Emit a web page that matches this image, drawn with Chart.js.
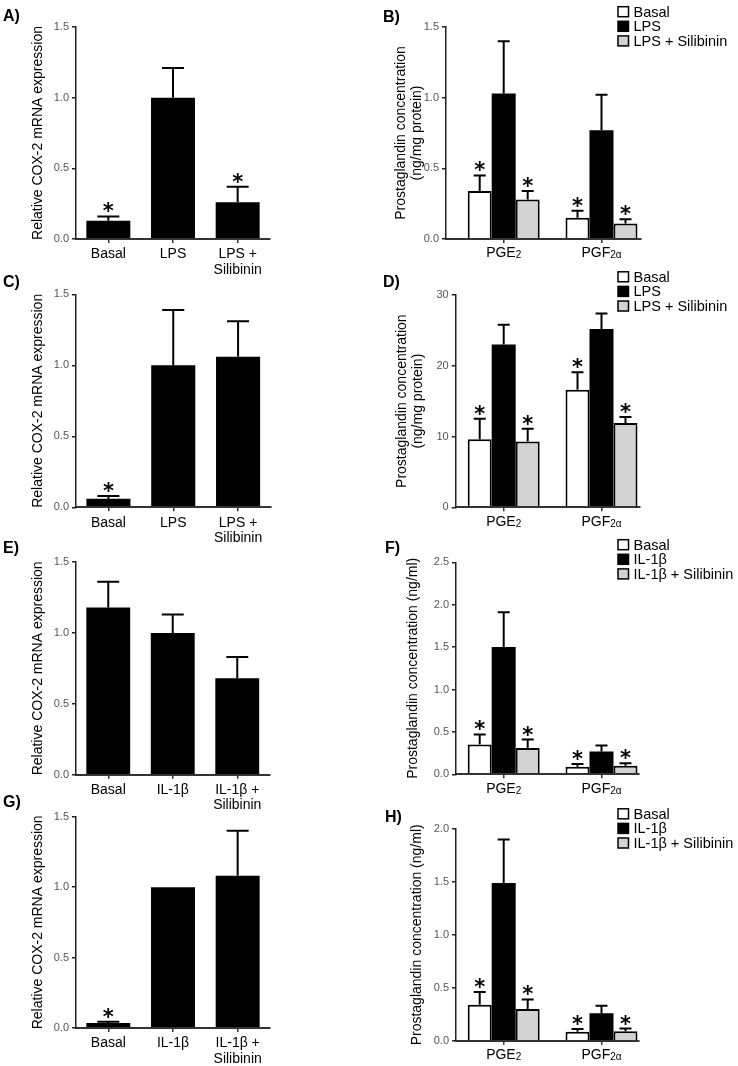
<!DOCTYPE html>
<html>
<head>
<meta charset="utf-8">
<script src="https://cdn.jsdelivr.net/npm/chart.js@4.4.1/dist/chart.umd.min.js"></script>
<style>
  body { margin: 0; background: #fff; width: 738px; height: 1066px; position: relative; overflow: hidden; }
  canvas { position: absolute; }
</style>
</head>
<body>
<canvas id="chartA"></canvas>
<canvas id="chartB"></canvas>
<canvas id="chartC"></canvas>
<canvas id="chartD"></canvas>
<canvas id="chartE"></canvas>
<canvas id="chartF"></canvas>
<canvas id="chartG"></canvas>
<canvas id="chartH"></canvas>
<script>
// ---- data ----
const labelsLPS = ['Basal', 'LPS', ['LPS +', 'Silibinin']];
const labelsIL = ['Basal', 'IL-1β', ['IL-1β +', 'Silibinin']];
const seriesLPS = ['Basal', 'LPS', 'LPS + Silibinin'];
const seriesIL = ['Basal', 'IL-1β', 'IL-1β + Silibinin'];
const groupLabels = [{ main: 'PGE', sub: '2' }, { main: 'PGF', sub: '2α' }];

const ticksRel = [0, 0.5, 1.0, 1.5];
const ticksB = [0, 0.5, 1.0, 1.5];
const ticksD = [0, 10, 20, 30];
const ticksF = [0, 0.5, 1.0, 1.5, 2.0, 2.5];
const ticksH = [0, 0.5, 1.0, 1.5, 2.0];

// A) COX-2 mRNA, LPS
const meanA = [0.13, 1.00, 0.26];
const semA = [0.03, 0.21, 0.11];
const starA = [true, false, true];
// C) COX-2 mRNA, LPS
const meanC = [0.06, 1.00, 1.06];
const semC = [0.02, 0.39, 0.25];
const starC = [true, false, false];
// E) COX-2 mRNA, IL-1b
const meanE = [1.18, 1.00, 0.68];
const semE = [0.18, 0.13, 0.15];
const starE = [false, false, false];
// G) COX-2 mRNA, IL-1b
const meanG = [0.035, 1.00, 1.08];
const semG = [0.01, 0, 0.32];
const starG = [true, false, false];

// B) prostaglandins ng/mg protein
const basalB = [0.34, 0.15], basalSemB = [0.11, 0.05];
const lpsB = [1.03, 0.77], lpsSemB = [0.37, 0.25];
const silB = [0.28, 0.11], silSemB = [0.06, 0.03];
// D) prostaglandins ng/mg protein
const basalD = [9.6, 16.6], basalSemD = [2.9, 2.5];
const lpsD = [23.0, 25.2], lpsSemD = [2.8, 2.2];
const silD = [9.3, 11.9], silSemD = [1.8, 0.85];
// F) prostaglandins ng/ml
const basalF = [0.35, 0.09], basalSemF = [0.12, 0.03];
const ilF = [1.50, 0.27], ilSemF = [0.41, 0.07];
const silF = [0.31, 0.10], silSemF = [0.10, 0.03];
// H) prostaglandins ng/ml
const basalH = [0.34, 0.085], basalSemH = [0.12, 0.025];
const ilH = [1.49, 0.26], ilSemH = [0.41, 0.07];
const silH = [0.30, 0.09], silSemH = [0.09, 0.025];

const starsBasal = [true, true];
const starsNone = [false, false];
const starsSil = [true, true];

// ---- drawing ----
const fam = '"Liberation Sans", Arial, Helvetica, sans-serif';
Chart.defaults.font.family = fam;
Chart.defaults.color = '#000';

const WHITE = '#ffffff', BLACK = '#000000', GREY = '#d3d3d3';

const panelPlugin = {
  id: 'panel',
  afterDatasetsDraw(chart, args, o) {
    const ctx = chart.ctx, ys = chart.scales.y;
    ctx.save();
    chart.data.datasets.forEach((ds, i) => {
      chart.getDatasetMeta(i).data.forEach((bar, j) => {
        const yTop = ys.getPixelForValue(ds.means[j] + ds.sem[j]);
        if (ds.sem[j] > 0) {
          const cap = Math.max(bar.width * 0.5, 11);
          ctx.strokeStyle = BLACK;
          ctx.lineWidth = 2;
          ctx.beginPath();
          ctx.moveTo(bar.x, bar.y);
          ctx.lineTo(bar.x, yTop);
          ctx.moveTo(bar.x - cap / 2, yTop);
          ctx.lineTo(bar.x + cap / 2, yTop);
          ctx.stroke();
        }
        if (ds.stars[j]) {
          ctx.fillStyle = BLACK;
          ctx.font = 'bold 21px "DejaVu Sans"';
          ctx.textAlign = 'center';
          ctx.textBaseline = 'alphabetic';
          ctx.fillText('*', bar.x, yTop + 2);
        }
      });
    });
    ctx.restore();
  },
  afterDraw(chart, args, o) {
    const ctx = chart.ctx;
    ctx.save();
    ctx.fillStyle = BLACK;
    ctx.textBaseline = 'alphabetic';
    // panel letter
    ctx.font = 'bold 16px ' + fam;
    ctx.textAlign = 'left';
    ctx.fillText(o.letter, o.letterX - o.left, o.letterY - o.top);
    // x labels
    const xs = chart.scales.x;
    const base = o.labelBase - o.top;
    xs.ticks.forEach((t, k) => {
      const px = xs.getPixelForTick(k);
      const lab = o.xLabels[k];
      if (lab && lab.main) {
        ctx.font = '14px ' + fam;
        const w1 = ctx.measureText(lab.main).width;
        ctx.font = '10px ' + fam;
        const w2 = ctx.measureText(lab.sub).width;
        const x0 = px - (w1 + w2) / 2;
        ctx.textAlign = 'left';
        ctx.font = '14px ' + fam;
        ctx.fillText(lab.main, x0, base);
        ctx.font = '10px ' + fam;
        ctx.fillText(lab.sub, x0 + w1, base + 1);
      } else {
        const lines = [].concat(lab);
        ctx.font = '14px ' + fam;
        ctx.textAlign = 'center';
        lines.forEach((ln, n) => ctx.fillText(ln, px, base + n * 15.2));
      }
    });
    // legend
    if (o.legend) {
      chart.data.datasets.forEach((ds, i) => {
        const cy = o.legend.y + i * 14.6 - o.top;
        const bx = o.legend.x - o.left;
        ctx.fillStyle = ds.backgroundColor;
        ctx.fillRect(bx, cy - 5, 10.5, 10);
        ctx.strokeStyle = BLACK;
        ctx.lineWidth = 1.5;
        ctx.strokeRect(bx, cy - 5, 10.5, 10);
        ctx.fillStyle = BLACK;
        ctx.font = '14.5px ' + fam;
        ctx.textAlign = 'left';
        ctx.fillText(ds.label, bx + 15.5, cy + 5);
      });
    }
    ctx.restore();
  }
};
Chart.register(panelPlugin);

function barSet(label, values, sem, stars, colour, linear) {
  return {
    label: label,
    data: linear ? values.map((v, k) => ({ x: k + 1, y: v })) : values,
    means: values,
    sem: sem,
    stars: stars,
    backgroundColor: colour,
    borderColor: BLACK,
    borderWidth: colour === BLACK ? 0 : 2,
    categoryPercentage: linear ? 0.736 : 1,
    barPercentage: linear ? 1 : 0.68
  };
}

function makePanel(id, p) {
  const cv = document.getElementById(id);
  cv.width = p.w;
  cv.height = p.h;
  cv.style.left = p.left + 'px';
  cv.style.top = p.top + 'px';

  const grid = { drawOnChartArea: false, drawTicks: true, tickLength: 4, color: '#333', lineWidth: 1.5, offset: false };
  let xScale;
  if (p.linear) {
    // group centres at 503.7 and 601.5 px
    const c1 = 503.7, c2 = 601.5, unit = c2 - c1;
    xScale = {
      type: 'linear',
      min: 1 - (c1 - p.axisX) / unit,
      max: 2 + (p.axisRight - c2) / unit,
      offset: false,
      afterBuildTicks: s => { s.ticks = [{ value: 1 }, { value: 2 }]; }
    };
  } else {
    xScale = { type: 'category', offset: true };
  }
  Object.assign(xScale, {
    afterFit: s => { s.height = p.top + p.h - p.axisBottom; },
    ticks: { display: false },
    grid: grid,
    border: { color: '#333', width: 2, z: 1 }
  });

  return new Chart(cv, {
    type: 'bar',
    data: { labels: p.linear ? undefined : p.xLabels.map((l, k) => k), datasets: p.datasets },
    options: {
      responsive: false,
      animation: false,
      layout: { padding: { top: p.axisTop - p.top, right: p.left + p.w - p.axisRight, left: 0, bottom: 0 } },
      plugins: {
        legend: { display: false },
        tooltip: { enabled: false },
        panel: p
      },
      scales: {
        x: xScale,
        y: {
          min: 0,
          max: p.yTicks[p.yTicks.length - 1],
          afterFit: s => { s.width = p.axisX - p.left; },
          afterBuildTicks: s => { s.ticks = p.yTicks.map(v => ({ value: v })); },
          ticks: { color: '#555', font: { size: 11 }, padding: 3, callback: v => v.toFixed(p.dec) },
          grid: { drawOnChartArea: false, drawTicks: true, tickLength: 4, color: '#222', lineWidth: 1.5 },
          border: { color: '#222', width: 1.5, z: 1 },
          title: {
            display: true, text: p.title, color: BLACK,
            font: { size: 14, lineHeight: 1.15 },
            padding: { top: p.titleX - p.left - 8.05, bottom: 0 }
          }
        }
      }
    }
  });
}

const titleRel = 'Relative COX-2 mRNA expression';
const titleProt = ['Prostaglandin concentration', '(ng/mg protein)'];
const titleMl = 'Prostaglandin concentration (ng/ml)';

makePanel('chartA', {
  left: 0, top: 0, w: 369, h: 279, axisX: 76, axisTop: 27, axisBottom: 239, axisRight: 270,
  yTicks: ticksRel, dec: 1, title: titleRel, titleX: 37.7, letter: 'A)', letterX: 3, letterY: 20.5,
  xLabels: labelsLPS, labelBase: 258.3,
  datasets: [barSet('COX-2', meanA, semA, starA, BLACK, false)]
});
makePanel('chartC', {
  left: 0, top: 266, w: 369, h: 280, axisX: 76, axisTop: 294.3, axisBottom: 507.3, axisRight: 270.5,
  yTicks: ticksRel, dec: 1, title: titleRel, titleX: 37.7, letter: 'C)', letterX: 3, letterY: 286.5,
  xLabels: labelsLPS, labelBase: 526.6,
  datasets: [barSet('COX-2', meanC, semC, starC, BLACK, false)]
});
makePanel('chartE', {
  left: 0, top: 532, w: 369, h: 282, axisX: 76, axisTop: 562, axisBottom: 774.7, axisRight: 269.5,
  yTicks: ticksRel, dec: 1, title: titleRel, titleX: 37.7, letter: 'E)', letterX: 3, letterY: 552.5,
  xLabels: labelsIL, labelBase: 794,
  datasets: [barSet('COX-2', meanE, semE, starE, BLACK, false)]
});
makePanel('chartG', {
  left: 0, top: 792, w: 369, h: 274, axisX: 76, axisTop: 816.7, axisBottom: 1028, axisRight: 270,
  yTicks: ticksRel, dec: 1, title: titleRel, titleX: 37.7, letter: 'G)', letterX: 3, letterY: 806.5,
  xLabels: labelsIL, labelBase: 1047.3,
  datasets: [barSet('COX-2', meanG, semG, starG, BLACK, false)]
});

makePanel('chartB', {
  left: 369, top: 0, w: 369, h: 279, axisX: 446, axisTop: 27, axisBottom: 239, axisRight: 641, linear: true,
  yTicks: ticksB, dec: 1, title: titleProt, titleX: 401.5, letter: 'B)', letterX: 383, letterY: 21.5,
  xLabels: groupLabels, labelBase: 257, legend: { x: 618, y: 11.7 },
  datasets: [
    barSet(seriesLPS[0], basalB, basalSemB, starsBasal, WHITE, true),
    barSet(seriesLPS[1], lpsB, lpsSemB, starsNone, BLACK, true),
    barSet(seriesLPS[2], silB, silSemB, starsSil, GREY, true)
  ]
});
makePanel('chartD', {
  left: 369, top: 266, w: 369, h: 280, axisX: 455.7, axisTop: 295, axisBottom: 507.3, axisRight: 639.3, linear: true,
  yTicks: ticksD, dec: 0, title: titleProt, titleX: 402, letter: 'D)', letterX: 383, letterY: 286.5,
  xLabels: groupLabels, labelBase: 525.5, legend: { x: 618, y: 276.8 },
  datasets: [
    barSet(seriesLPS[0], basalD, basalSemD, starsBasal, WHITE, true),
    barSet(seriesLPS[1], lpsD, lpsSemD, starsNone, BLACK, true),
    barSet(seriesLPS[2], silD, silSemD, starsSil, GREY, true)
  ]
});
makePanel('chartF', {
  left: 369, top: 532, w: 369, h: 282, axisX: 456, axisTop: 562.3, axisBottom: 774.3, axisRight: 639, linear: true,
  yTicks: ticksF, dec: 1, title: titleMl, titleX: 413, letter: 'F)', letterX: 385, letterY: 552.5,
  xLabels: groupLabels, labelBase: 792.5, legend: { x: 618, y: 544.7 },
  datasets: [
    barSet(seriesIL[0], basalF, basalSemF, starsBasal, WHITE, true),
    barSet(seriesIL[1], ilF, ilSemF, starsNone, BLACK, true),
    barSet(seriesIL[2], silF, silSemF, starsSil, GREY, true)
  ]
});
makePanel('chartH', {
  left: 369, top: 792, w: 369, h: 274, axisX: 456, axisTop: 829, axisBottom: 1040.7, axisRight: 639, linear: true,
  yTicks: ticksH, dec: 1, title: titleMl, titleX: 416.7, letter: 'H)', letterX: 385, letterY: 821.5,
  xLabels: groupLabels, labelBase: 1059, legend: { x: 618, y: 813.8 },
  datasets: [
    barSet(seriesIL[0], basalH, basalSemH, starsBasal, WHITE, true),
    barSet(seriesIL[1], ilH, ilSemH, starsNone, BLACK, true),
    barSet(seriesIL[2], silH, silSemH, starsSil, GREY, true)
  ]
});
</script>
</body>
</html>
